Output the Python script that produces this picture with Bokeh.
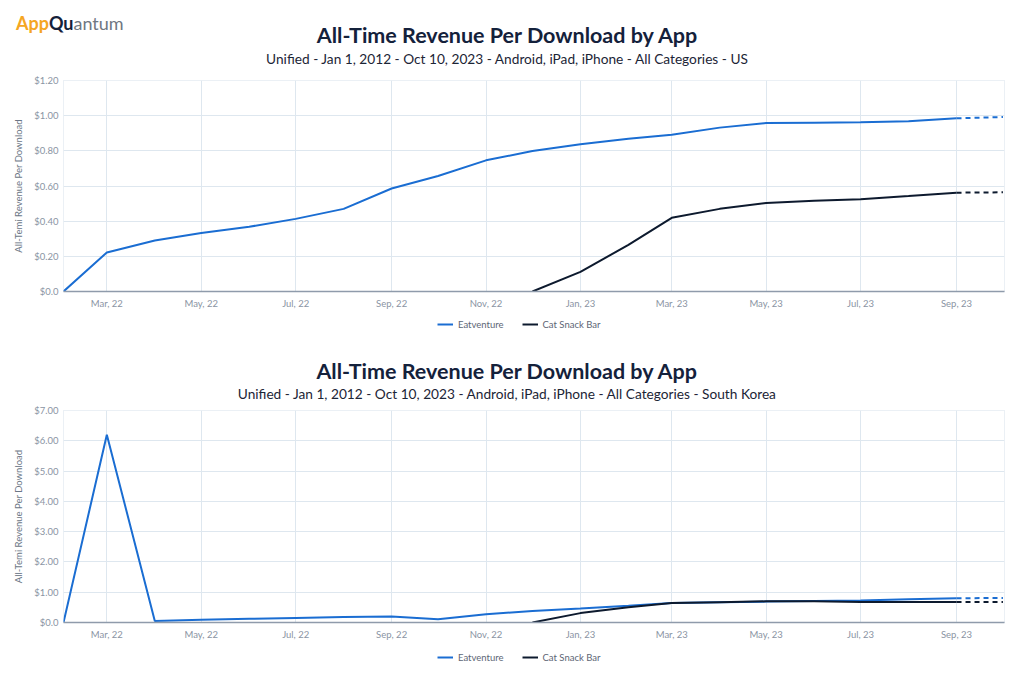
import pandas as pd
from bokeh.plotting import figure
from bokeh.models import (Range1d, FixedTicker, DatetimeTickFormatter, Label,
                          Legend, LegendItem, Div)
from bokeh.layouts import column
from bokeh.embed import file_html
from bokeh.resources import INLINE

# ---------------- data ----------------
months = ["2022-02-01", "2022-03-01", "2022-04-01", "2022-05-01", "2022-06-01",
          "2022-07-01", "2022-08-01", "2022-09-01", "2022-10-01", "2022-11-01",
          "2022-12-01", "2023-01-01", "2023-02-01", "2023-03-01", "2023-04-01",
          "2023-05-01", "2023-06-01", "2023-07-01", "2023-08-01", "2023-09-01",
          "2023-10-01"]

us_eatventure = [0.0, 0.222, 0.29, 0.333, 0.368, 0.413, 0.470, 0.586, 0.657, 0.746,
                 0.799, 0.837, 0.869, 0.891, 0.932, 0.958, 0.960, 0.962, 0.968, 0.985,
                 0.992]
us_catsnack = [None, None, None, None, None, None, None, None, None, None,
               0.0, 0.112, 0.265, 0.419, 0.470, 0.503, 0.516, 0.525, 0.543, 0.562,
               0.564]

kr_eatventure = [0.0, 6.2, 0.05, 0.09, 0.12, 0.15, 0.18, 0.20, 0.11, 0.27,
                 0.38, 0.46, 0.55, 0.64, 0.67, 0.69, 0.71, 0.73, 0.77, 0.80,
                 0.81]
kr_catsnack = [None, None, None, None, None, None, None, None, None, None,
               0.0, 0.31, 0.50, 0.64, 0.67, 0.70, 0.70, 0.68, 0.68, 0.68,
               0.68]

x_tick_dates = ["2022-03-01", "2022-05-01", "2022-07-01", "2022-09-01", "2022-11-01",
                "2023-01-01", "2023-03-01", "2023-05-01", "2023-07-01", "2023-09-01"]
x_start, x_end = "2022-02-01", "2023-10-02"

us_y_ticks = [0.0, 0.2, 0.4, 0.6, 0.8, 1.0, 1.2]
kr_y_ticks = [0, 1, 2, 3, 4, 5, 6, 7]

series_names = ["Eatventure", "Cat Snack Bar"]
series_colors = ["#1a6dd2", "#0d1a2e"]

logo_parts = ["App", "Qu", "antum"]
logo_colors = ["#f5a623", "#14213b", "#6f7782"]
title_text = "All-Time Revenue Per Download by App"
us_subtitle = "Unified - Jan 1, 2012 - Oct 10, 2023 - Android, iPad, iPhone - All Categories - US"
kr_subtitle = "Unified - Jan 1, 2012 - Oct 10, 2023 - Android, iPad, iPhone - All Categories - South Korea"
y_label = "All-Temi Revenue Per Download"

# ---------------- helpers ----------------
def ms(s):
    return pd.Timestamp(s).value // 10**6

FONT = "Lato"
W = 1016
BL, BR = 63, 12
X_MS = [ms(m) for m in months]
TITLE_SIZE = "21.5px"
SUB_SIZE = "13.7px"
TITLE_COLOR = "#14213b"
SUB_COLOR = "#1c2536"
TITLE_CX = 507


def fmt_money(t):
    return "$0.0" if t == 0 else "${:.2f}".format(t)


def top_header():
    html = (
        '<div style="position:relative;width:{w}px;height:80px;font-family:Lato,sans-serif;">'
        '<div style="position:absolute;left:16px;top:12px;font-size:18px;line-height:22px;white-space:nowrap;">'
        '<span style="color:{c0};font-weight:bold;">{p0}</span>'
        '<span style="color:{c1};font-weight:bold;">{p1}</span>'
        '<span style="color:{c2};">{p2}</span></div>'
        '<div style="position:absolute;left:0;width:{tw}px;top:22px;text-align:center;'
        'font-size:{ts};line-height:26px;font-weight:bold;color:{tc};white-space:nowrap;">{t}</div>'
        '<div style="position:absolute;left:0;width:{tw}px;top:50px;text-align:center;'
        'font-size:{ss};line-height:18px;color:{sc};white-space:nowrap;">{s}</div>'
        '</div>'
    ).format(w=W, tw=2 * TITLE_CX,
             c0=logo_colors[0], c1=logo_colors[1], c2=logo_colors[2],
             p0=logo_parts[0], p1=logo_parts[1], p2=logo_parts[2],
             ts=TITLE_SIZE, tc=TITLE_COLOR, t=title_text,
             ss=SUB_SIZE, sc=SUB_COLOR, s=us_subtitle)
    return Div(text=html, width=W, height=72, margin=0)


def strip(h, legend_center_y, title_y=None, sub_y=None, subtitle=None):
    """A text strip: legend of the chart above (+ title of the chart below)."""
    p = figure(width=W, height=h, output_backend="svg", toolbar_location=None,
               x_range=Range1d(BL, W - BR), y_range=Range1d(h, 0),
               x_axis_location=None, y_axis_location=None,
               min_border_left=BL, min_border_right=BR,
               min_border_top=0, min_border_bottom=0)
    p.grid.visible = False
    p.outline_line_color = None
    p.background_fill_color = "white"
    p.border_fill_color = "white"

    nan = float("nan")
    rs = [p.line(x=[nan], y=[nan], line_color=c, line_width=2) for c in series_colors]
    legend = Legend(items=[LegendItem(label=n, renderers=[r])
                           for n, r in zip(series_names, rs)],
                    orientation="horizontal",
                    location=(374, h - legend_center_y - 6),
                    border_line_color=None, background_fill_alpha=0,
                    label_text_font=FONT, label_text_font_size="9.5px",
                    label_text_color="#5d6675", glyph_width=16, glyph_height=12,
                    label_height=12, label_standoff=5, spacing=18,
                    padding=0, margin=0)
    p.add_layout(legend)

    if subtitle is not None:
        p.add_layout(Label(x=TITLE_CX, y=title_y, text=title_text, text_align="center",
                           text_baseline="middle", text_font=FONT,
                           text_font_style="bold", text_font_size=TITLE_SIZE,
                           text_color=TITLE_COLOR))
        p.add_layout(Label(x=TITLE_CX, y=sub_y, text=subtitle, text_align="center",
                           text_baseline="middle", text_font=FONT,
                           text_font_size=SUB_SIZE, text_color=SUB_COLOR))
    return p


def make_panel(eat, cat, y_ticks, height, bottom_border):
    p = figure(width=W, height=height, x_axis_type="datetime",
               output_backend="svg", toolbar_location=None,
               x_range=Range1d(ms(x_start), ms(x_end)),
               y_range=Range1d(y_ticks[0], y_ticks[-1]),
               min_border_left=BL, min_border_right=BR,
               min_border_top=8, min_border_bottom=bottom_border)
    p.background_fill_color = "white"
    p.border_fill_color = "white"
    p.outline_line_color = "#d6e0ea"
    p.outline_line_dash = "1 1"

    p.xaxis.ticker = FixedTicker(ticks=[ms(d) for d in x_tick_dates])
    p.xaxis.formatter = DatetimeTickFormatter(days="%b, %y", months="%b, %y",
                                              years="%b, %y", hours="%b, %y")
    p.yaxis.ticker = FixedTicker(ticks=y_ticks)
    p.yaxis.major_label_overrides = {t: fmt_money(t) for t in y_ticks}
    for ax in (p.xaxis, p.yaxis):
        ax.major_tick_line_color = None
        ax.minor_tick_line_color = None
        ax.major_tick_out = 0
        ax.major_tick_in = 0
        ax.minor_tick_out = 0
        ax.major_label_text_color = "#8a94a3"
        ax.major_label_text_font = FONT
        ax.major_label_text_font_size = "9.5px"
    p.xaxis.axis_line_color = "#8f9bab"
    p.xaxis.axis_line_width = 1.5
    p.xaxis.major_label_standoff = 6
    p.yaxis.axis_line_color = None
    p.yaxis.major_label_standoff = 5
    p.yaxis.axis_label = y_label
    p.yaxis.axis_label_text_font = FONT
    p.yaxis.axis_label_text_font_size = "9.5px"
    p.yaxis.axis_label_text_font_style = "normal"
    p.yaxis.axis_label_text_color = "#6b7685"
    p.yaxis.axis_label_standoff = 7

    p.grid.grid_line_color = "#dee7ef"
    p.grid.grid_line_width = 1

    for vals, color in zip((eat, cat), series_colors):
        idx = [i for i, v in enumerate(vals) if v is not None]
        solid = idx[:-1]
        dashed = idx[-2:]
        p.line([X_MS[i] for i in solid], [vals[i] for i in solid],
               line_color=color, line_width=2)
        p.line([X_MS[i] for i in dashed], [vals[i] for i in dashed],
               line_color=color, line_width=2, line_dash="5 4")
    return p


h1 = top_header()
p1 = make_panel(us_eatventure, us_catsnack, us_y_ticks, 240, 21)
h2 = strip(90, 12, title_y=58, sub_y=81, subtitle=kr_subtitle)
p2 = make_panel(kr_eatventure, kr_catsnack, kr_y_ticks, 240, 19)
f2 = strip(34, 15)

page = column(h1, p1, h2, p2, f2, spacing=0)
open("out.html", "w").write(file_html(page, INLINE))
